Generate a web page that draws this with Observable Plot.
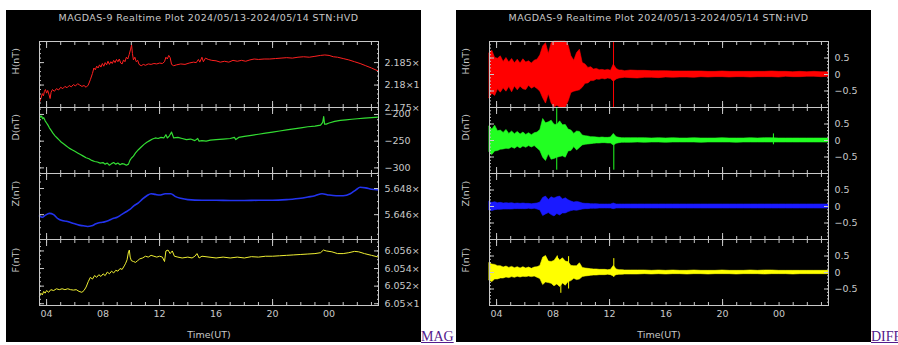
<!DOCTYPE html>
<html><head><meta charset="utf-8">
<script src="https://cdn.jsdelivr.net/npm/d3@7"></script>
<script src="https://cdn.jsdelivr.net/npm/@observablehq/plot@0.6"></script>
<style>
body{margin:0;background:#fff;width:898px;height:345px;overflow:hidden;position:relative;font-family:"DejaVu Sans",sans-serif;}
.panel{position:absolute;top:10px;width:415px;height:332px;background:#000;overflow:hidden;}
.title{position:absolute;left:33px;width:339px;top:2px;text-align:center;color:#c8c8c8;font-size:9.5px;letter-spacing:0.4px;line-height:12px;white-space:nowrap;font-family:"DejaVu Sans",sans-serif;}
.link{position:absolute;font-family:"Liberation Serif",serif;font-size:14px;color:#551a8b;text-decoration:underline;top:329px;line-height:16px;white-space:nowrap;}
</style></head><body>
<div class="panel" id="mag" style="left:6px"></div>
<a class="link" style="left:421px" href="#">MAG</a>
<div class="panel" id="diff" style="left:456px"></div>
<a class="link" style="left:871px" href="#">DIFF</a>
<script>
// ---------- axis data ----------
const titleText = "MAGDAS-9 Realtime Plot 2024/05/13-2024/05/14 STN:HVD";
const hourTicks = [4,5,6,7,8,9,10,11,12,13,14,15,16,17,18,19,20,21,22,23,24,25,26,27];
const longHourTicks = [4,12,20];
const labelHours = [4,8,12,16,20,24];
const labelHourText = ["04","08","12","16","20","00"];

// tick labels exactly as visible in the plot (the image crops them at its right edge)
const hTickValues = [21750,21800,21850];
const hTickText = ["2.175×","2.18×1","2.185×"];
const dTickValues = [-300,-250,-200];
const dTickText = ["−300","−250","−200"];
const zTickValues = [56460,56480];
const zTickText = ["5.646×","5.648×"];
const fTickValues = [60500,60520,60540,60560];
const fTickText = ["6.05×1","6.052×","6.054×","6.056×"];
const diffTickValues = [-0.5,0,0.5];
const diffTickText = ["−0.5","0","0.5"];

// ---------- MAG series (hours UT from 2024/05/13 00:00, value nT) ----------
const hTime = [3.5,3.6,3.7,3.78,3.85,3.92,4.0,4.08,4.18,4.25,4.32,4.42,4.55,4.7,4.85,5.0,5.15,5.3,5.45,5.6,5.75,5.9,6.05,6.2,6.35,6.5,6.65,6.8,6.95,7.1,7.25,7.35,7.45,7.55,7.65,7.75,7.85,7.95,8.05,8.15,8.25,8.35,8.45,8.55,8.65,8.75,8.85,8.95,9.05,9.15,9.25,9.35,9.45,9.55,9.65,9.75,9.85,9.95,10.02,10.08,10.15,10.25,10.35,10.45,10.55,10.7,10.85,11.0,11.2,11.4,11.6,11.8,12.0,12.2,12.35,12.45,12.55,12.65,12.75,12.85,13.0,13.2,13.5,13.8,14.1,14.4,14.6,14.75,14.85,15.0,15.1,15.25,15.45,15.7,16.0,16.3,16.6,16.9,17.2,17.5,17.8,18.1,18.4,18.7,19.0,19.4,19.8,20.2,20.6,21.0,21.4,21.8,22.2,22.6,23.0,23.4,23.7,24.0,24.3,24.6,25.0,25.4,25.8,26.2,26.6,27.0,27.5];
const hValue = [21762,21770,21781,21776,21786,21790,21782,21788,21778,21770,21784,21790,21786,21792,21789,21795,21792,21797,21794,21799,21796,21801,21798,21803,21800,21797,21799,21795,21800,21812,21826,21838,21834,21842,21838,21845,21840,21848,21842,21850,21845,21853,21846,21852,21848,21855,21850,21857,21852,21858,21849,21847,21856,21852,21862,21858,21868,21880,21889,21870,21856,21862,21852,21855,21846,21843,21846,21844,21847,21846,21848,21847,21849,21848,21852,21862,21858,21866,21861,21846,21843,21845,21847,21846,21849,21851,21850,21857,21851,21862,21852,21860,21857,21855,21854,21851,21853,21851,21855,21853,21855,21853,21856,21858,21857,21858,21858,21859,21860,21861,21860,21862,21863,21862,21864,21866,21867,21866,21863,21862,21859,21856,21852,21848,21843,21838,21831];

const dTime = [3.5,3.58,3.65,3.72,3.8,3.9,4.0,4.1,4.2,4.3,4.45,4.6,4.75,4.9,5.05,5.2,5.4,5.6,5.8,6.0,6.2,6.4,6.6,6.8,7.0,7.2,7.4,7.6,7.8,8.0,8.15,8.3,8.45,8.6,8.75,8.9,9.05,9.2,9.35,9.5,9.65,9.8,9.9,10.0,10.15,10.3,10.5,10.7,10.9,11.1,11.3,11.5,11.7,11.9,12.1,12.3,12.45,12.55,12.7,12.85,13.0,13.3,13.6,13.9,14.2,14.5,14.7,14.8,15.0,15.3,15.6,16.0,16.5,17.0,17.3,17.4,17.6,18.0,18.5,19.0,19.5,20.0,20.5,21.0,21.5,22.0,22.5,23.0,23.4,23.55,23.62,23.68,23.8,24.0,24.4,24.8,25.2,25.6,26.0,26.5,27.0,27.5];
const dValue = [-201,-205,-203,-208,-206,-212,-216,-220,-225,-229,-235,-240,-244,-248,-252,-255,-259,-263,-266,-269,-272,-275,-278,-281,-283,-286,-288,-289,-291,-290,-293,-291,-295,-292,-290,-293,-291,-294,-292,-293,-295,-293,-286,-282,-278,-272,-266,-261,-256,-252,-249,-246,-244,-245,-243,-244,-238,-244,-240,-233,-244,-243,-245,-247,-246,-249,-245,-250,-249,-250,-248,-247,-246,-245,-243,-247,-243,-241,-239,-237,-235,-233,-231,-229,-227,-225,-223,-222,-220,-215,-204,-218,-218,-216,-213,-211,-210,-209,-208,-207,-206,-205];

const zTime = [3.5,3.7,3.9,4.2,4.5,4.8,5.1,5.4,5.7,6.0,6.3,6.6,6.9,7.2,7.5,7.8,8.1,8.4,8.7,9.0,9.3,9.6,9.9,10.2,10.5,10.8,11.1,11.4,11.7,12.0,12.4,12.8,13.1,13.5,14.0,15.0,16.0,17.0,18.0,19.0,20.0,21.0,22.0,22.5,23.0,23.5,24.0,24.5,25.0,25.5,25.9,26.2,26.6,27.0,27.5];
const zValue = [56459,56458,56459.5,56461,56460,56457,56455.5,56455,56454,56453,56452,56451.5,56451,56451.5,56453,56454,56454.5,56455.5,56457,56458,56460,56462,56464,56467,56469,56472,56474.5,56476,56475.5,56475,56476,56476,56474,56472.5,56471.5,56471,56471,56470.8,56470.8,56471,56471,56471.5,56472.5,56473.5,56474.5,56476,56475,56474.5,56474.5,56476,56479,56481,56480.5,56479.5,56479];

const fTime = [3.5,3.6,3.7,3.8,3.9,4.0,4.15,4.3,4.5,4.7,4.9,5.1,5.3,5.5,5.7,5.9,6.1,6.3,6.5,6.65,6.8,6.95,7.1,7.25,7.4,7.55,7.7,7.85,8.0,8.15,8.3,8.45,8.6,8.75,8.9,9.05,9.2,9.35,9.5,9.6,9.7,9.8,9.86,9.92,10.0,10.15,10.3,10.45,10.6,10.8,11.0,11.2,11.4,11.6,11.8,12.0,12.2,12.35,12.45,12.6,12.75,12.9,13.05,13.3,13.6,14.0,14.3,14.5,14.65,14.8,15.0,15.5,16.0,16.5,17.0,17.5,18.0,18.5,19.0,19.5,20.0,20.5,21.0,21.5,22.0,22.5,23.0,23.4,23.6,23.8,24.2,24.6,25.0,25.4,25.8,26.1,26.5,27.0,27.5];
const fValue = [60509,60512,60510,60514,60512,60515,60513,60516,60515,60517,60516,60517,60516,60517,60516,60515.5,60516,60514,60513,60515,60519,60525,60530,60528,60532,60530,60533,60531,60534,60532,60536,60534,60537,60535,60538,60537,60540,60539,60543,60546,60550,60559,60561,60553,60549,60548,60547,60549,60551,60552,60554,60553,60555,60554,60553,60554,60553,60548,60560,60561,60557,60560,60554,60553,60552,60553,60552,60554,60557,60552,60554,60553,60552,60553,60552,60553,60552,60553.5,60553,60554,60554,60554.5,60555,60555.5,60556,60556.5,60557,60558,60561,60560,60559,60557,60557,60558,60559.5,60559,60557,60555,60553];

// ---------- DIFF envelopes (hours UT, nT) ----------
const diffTime = [3.5,3.7,3.9,4.1,4.3,4.5,4.7,4.9,5.1,5.3,5.5,5.7,5.9,6.1,6.3,6.5,6.7,6.9,7.1,7.3,7.5,7.7,7.9,8.1,8.3,8.5,8.7,8.9,9.1,9.3,9.5,9.7,9.9,10.1,10.3,10.5,10.7,10.9,11.1,11.3,11.5,11.7,11.9,12.1,12.3,12.5,12.7,12.9,13.1,13.5,14,14.5,15,15.5,16,16.5,17,17.5,18,18.5,19,19.5,20,20.5,21,21.5,22,22.5,23,23.5,24,24.5,25,25.5,26,26.5,27,27.5];
const diffHHi = [.65,.72,.5,.48,.55,.38,.5,.36,.47,.34,.45,.33,.46,.36,.4,.33,.42,.45,.58,.85,.95,.62,.95,1,1,1,1,1,.88,.55,.42,.65,.75,.35,.3,.2,.22,.15,.17,.13,.14,.12,.14,.11,.3,.17,.12,.12,.1,.12,.11,.11,.1,.1,.1,.09,.09,.09,.09,.09,.08,.08,.09,.08,.08,.08,.08,.08,.08,.09,.08,.08,.07,.08,.07,.08,.07,.07];
const diffHLo = [-.72,-.58,-.65,-.45,-.55,-.42,-.52,-.38,-.54,-.36,-.48,-.37,-.45,-.47,-.34,-.43,-.38,-.44,-.52,-.72,-.88,-.6,-.88,-1,-.95,-1,-1,-1,-.82,-.56,-.52,-.5,-.48,-.4,-.28,-.27,-.2,-.2,-.15,-.16,-.13,-.15,-.12,-.14,-.22,-.15,-.12,-.11,-.1,-.11,-.12,-.1,-.1,-.11,-.09,-.1,-.09,-.09,-.1,-.08,-.09,-.08,-.08,-.09,-.08,-.08,-.09,-.08,-.08,-.08,-.09,-.07,-.08,-.08,-.07,-.07,-.08,-.07];
const diffDHi = [.42,.33,.45,.28,.3,.23,.32,.2,.27,.19,.26,.18,.24,.17,.22,.16,.22,.24,.32,.65,.52,.55,.6,.48,.47,.58,.46,.47,.33,.3,.2,.27,.26,.15,.13,.12,.1,.1,.09,.08,.09,.08,.08,.09,.2,.1,.08,.07,.07,.07,.07,.07,.06,.07,.06,.07,.06,.06,.07,.06,.06,.06,.07,.06,.06,.06,.07,.06,.07,.07,.06,.06,.06,.06,.06,.06,.06,.06];
const diffDLo = [-.36,-.44,-.33,-.32,-.28,-.27,-.25,-.26,-.21,-.25,-.19,-.24,-.18,-.22,-.17,-.21,-.17,-.24,-.32,-.52,-.62,-.42,-.58,-.56,-.52,-.5,-.48,-.52,-.33,-.32,-.2,-.3,-.23,-.15,-.13,-.12,-.11,-.1,-.09,-.09,-.08,-.08,-.09,-.09,-.15,-.1,-.08,-.07,-.07,-.07,-.06,-.07,-.06,-.06,-.07,-.06,-.06,-.06,-.06,-.07,-.06,-.06,-.06,-.06,-.07,-.06,-.06,-.06,-.06,-.06,-.06,-.06,-.06,-.06,-.06,-.06,-.06,-.06];
const diffZHi = [.14,.11,.13,.1,.11,.09,.1,.09,.1,.08,.09,.08,.09,.08,.08,.07,.08,.09,.12,.26,.3,.2,.28,.24,.28,.3,.21,.25,.19,.15,.12,.14,.12,.09,.08,.08,.07,.07,.07,.06,.06,.06,.06,.06,.09,.06,.06,.06,.06,.06,.06,.06,.06,.06,.06,.06,.06,.06,.06,.06,.06,.06,.06,.06,.06,.06,.06,.06,.06,.06,.06,.06,.06,.06,.06,.06,.06,.06];
const diffZLo = [-.12,-.14,-.11,-.1,-.1,-.09,-.09,-.09,-.09,-.08,-.08,-.08,-.08,-.08,-.07,-.08,-.07,-.09,-.12,-.29,-.24,-.2,-.26,-.3,-.23,-.27,-.21,-.21,-.17,-.14,-.12,-.13,-.11,-.09,-.08,-.08,-.07,-.07,-.07,-.06,-.06,-.06,-.06,-.06,-.08,-.06,-.06,-.06,-.06,-.06,-.06,-.06,-.06,-.06,-.06,-.06,-.06,-.06,-.06,-.06,-.06,-.06,-.06,-.06,-.06,-.06,-.06,-.06,-.06,-.06,-.06,-.06,-.06,-.06,-.06,-.06,-.06,-.06];
const diffFHi = [.28,.24,.23,.19,.19,.15,.18,.14,.17,.13,.16,.12,.16,.12,.15,.11,.15,.16,.2,.45,.5,.33,.32,.35,.47,.36,.43,.33,.31,.2,.19,.19,.28,.14,.12,.11,.1,.09,.09,.08,.08,.08,.07,.08,.2,.09,.07,.07,.06,.06,.06,.06,.05,.06,.05,.06,.05,.05,.06,.05,.05,.05,.06,.05,.05,.05,.06,.05,.06,.06,.05,.05,.05,.05,.05,.05,.05,.05];
const diffFLo = [-.25,-.29,-.21,-.21,-.18,-.18,-.15,-.17,-.14,-.16,-.13,-.15,-.13,-.14,-.12,-.14,-.12,-.16,-.2,-.38,-.3,-.32,-.34,-.42,-.36,-.44,-.33,-.4,-.29,-.26,-.19,-.23,-.21,-.14,-.12,-.11,-.1,-.09,-.09,-.08,-.08,-.08,-.07,-.08,-.12,-.08,-.07,-.07,-.06,-.06,-.06,-.05,-.06,-.05,-.06,-.05,-.05,-.06,-.05,-.05,-.06,-.05,-.05,-.05,-.06,-.05,-.05,-.05,-.06,-.05,-.05,-.05,-.06,-.05,-.05,-.05,-.05,-.05];

// isolated spikes in the DIFF traces
const spikeHTime = [12.28], spikeHLo = [-1], spikeHHi = [1];
const spikeDTime = [8.26, 12.3, 23.6], spikeDLo = [-0.9, -0.9, -0.13], spikeDHi = [1, 0.15, 0.2];
const spikeFTime = [8.3, 8.55, 9.1, 12.3], spikeFLo = [-0.3, -0.63, -0.5, -0.15], spikeFHi = [0.5, 0.3, 0.48, 0.42];

// ---------- helpers ----------
const rows = (t, v) => t.map((x, i) => ({t: x, v: v[i]}));
const band = (t, lo, hi) => t.map((x, i) => ({t: x, lo: lo[i], hi: hi[i]}));
const FG = "#c8c8c8";

function sub(panel, top, cfg, last) {
  const mb = last ? 37 : 1;
  const fmt = d => cfg.tickText[cfg.tickValues.indexOf(d)];
  const marks = [
    ...cfg.marks,
    Plot.frame({stroke: FG}),
    Plot.axisX(hourTicks, {anchor: "top", tickSize: 3, dy: 3, fill: "none", stroke: FG, label: null}),
    Plot.axisX(hourTicks, {anchor: "bottom", tickSize: 3, dy: -3, fill: "none", stroke: FG, label: null}),
    Plot.axisX(longHourTicks, {anchor: "top", tickSize: 6, dy: 6, fill: "none", stroke: FG, label: null}),
    Plot.axisX(longHourTicks, {anchor: "bottom", tickSize: 6, dy: -6, fill: "none", stroke: FG, label: null}),
    Plot.axisY({anchor: "left", ticks: cfg.minor, tickSize: 2, dx: 2, fill: "none", stroke: FG, label: null}),
    Plot.axisY({anchor: "right", ticks: cfg.minor, tickSize: 2, dx: -2, fill: "none", stroke: FG, label: null}),
    Plot.axisY(cfg.tickValues, {anchor: "left", tickSize: 5, dx: 5, fill: "none", stroke: FG, label: null}),
    Plot.axisY(cfg.tickValues, {anchor: "right", tickSize: 5, dx: -5, fill: "none", stroke: FG, label: null}),
    Plot.axisY(cfg.tickValues, {anchor: "right", tickSize: 0, tickPadding: 6, tickFormat: fmt, fill: FG, label: null}),
    Plot.text([cfg.label], {frameAnchor: "left", dx: -24, rotate: -90, fill: FG, fontSize: 9.5})
  ];
  if (last) {
    marks.push(
      Plot.axisX(labelHours, {anchor: "bottom", tickSize: 0, tickPadding: 5, tickFormat: d => labelHourText[labelHours.indexOf(d)], fill: FG, label: null}),
      Plot.text(["Time(UT)"], {frameAnchor: "bottom", dy: 32, fill: FG, fontSize: 9.5})
    );
  }
  const svg = Plot.plot({
    width: 415, height: 66 + 1 + mb,
    marginLeft: 33, marginRight: 43, marginTop: 1, marginBottom: mb,
    x: {domain: [3.5, 27.5]},
    y: {domain: cfg.domain},
    style: {background: "none", color: FG, fontFamily: "DejaVu Sans", fontSize: "9.5px", overflow: "visible"},
    marks
  });
  svg.style.position = "absolute";
  svg.style.left = "0px";
  svg.style.top = top + "px";
  svg.style.maxWidth = "none";
  svg.style.overflow = "visible";
  panel.appendChild(svg);
}

function addTitle(panel) {
  const d = document.createElement("div");
  d.className = "title";
  d.textContent = titleText;
  panel.appendChild(d);
}

const tops = [30, 96, 162, 228];

// ---------- MAG panel ----------
const mag = document.getElementById("mag");
addTitle(mag);
const magCfg = [
  {label: "H(nT)", domain: [21750, 21897], tickValues: hTickValues, tickText: hTickText, minor: 15,
   marks: [Plot.line(rows(hTime, hValue), {x: "t", y: "v", stroke: "#ff2020", strokeWidth: 1})]},
  {label: "D(nT)", domain: [-310.5, -187], tickValues: dTickValues, tickText: dTickText, minor: 12,
   marks: [Plot.line(rows(dTime, dValue), {x: "t", y: "v", stroke: "#33dd33", strokeWidth: 1.2})]},
  {label: "Z(nT)", domain: [56441, 56491.5], tickValues: zTickValues, tickText: zTickText, minor: 10,
   marks: [Plot.line(rows(zTime, zValue), {x: "t", y: "v", stroke: "#2233ee", strokeWidth: 1.6, curve: "monotone-x"})]},
  {label: "F(nT)", domain: [60498, 60573], tickValues: fTickValues, tickText: fTickText, minor: 15,
   marks: [Plot.line(rows(fTime, fValue), {x: "t", y: "v", stroke: "#eeee33", strokeWidth: 1})]}
];
magCfg.forEach((c, i) => sub(mag, tops[i], c, i === 3));

// ---------- DIFF panel ----------
const diff = document.getElementById("diff");
addTitle(diff);
function diffMarks(lo, hi, color, sT, sLo, sHi) {
  const m = [Plot.areaY(band(diffTime, lo, hi), {x: "t", y1: "lo", y2: "hi", fill: color, stroke: color, strokeWidth: 0.6})];
  if (sT) m.push(Plot.ruleX(sT.map((t, i) => ({t, lo: sLo[i], hi: sHi[i]})), {x: "t", y1: "lo", y2: "hi", stroke: color, strokeWidth: 1}));
  return m;
}
const diffCfg = [
  {label: "H(nT)", color: "#ff0000", lo: diffHLo, hi: diffHHi, s: [spikeHTime, spikeHLo, spikeHHi]},
  {label: "D(nT)", color: "#22ff22", lo: diffDLo, hi: diffDHi, s: [spikeDTime, spikeDLo, spikeDHi]},
  {label: "Z(nT)", color: "#1a1aff", lo: diffZLo, hi: diffZHi, s: []},
  {label: "F(nT)", color: "#ffff00", lo: diffFLo, hi: diffFHi, s: [spikeFTime, spikeFLo, spikeFHi]}
];
diffCfg.forEach((c, i) => sub(diff, tops[i], {
  label: c.label, domain: [-1, 1], tickValues: diffTickValues, tickText: diffTickText, minor: 20,
  marks: diffMarks(c.lo, c.hi, c.color, ...c.s)
}, i === 3));
</script></body></html>
